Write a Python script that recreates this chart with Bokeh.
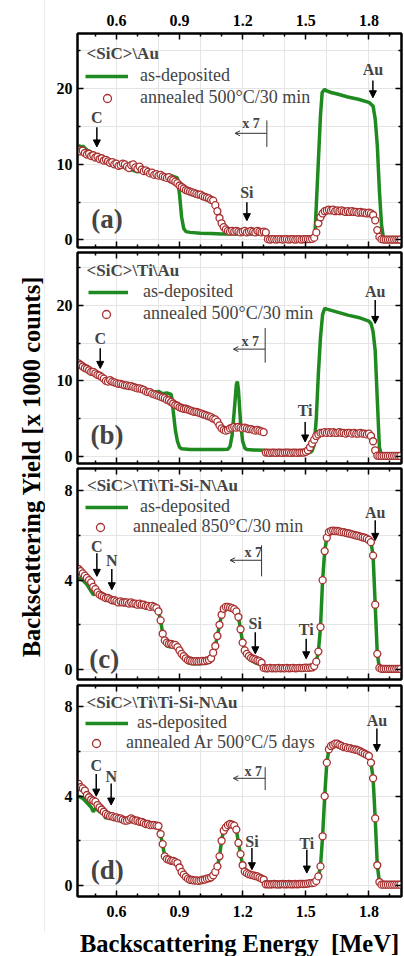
from bokeh.plotting import figure
from bokeh.models import (Range1d, LinearAxis, FixedTicker, Legend, LegendItem,
                          Label, Arrow, NormalHead, OpenHead)
from bokeh.layouts import row, column
from bokeh.embed import file_html
from bokeh.resources import INLINE

# ---------------- data ----------------
ENERGY = [
    0.42, 0.43, 0.44, 0.45, 0.46, 0.47, 0.48, 0.49, 0.50, 0.51,
    0.52, 0.53, 0.54, 0.55, 0.56, 0.57, 0.58, 0.59, 0.60, 0.61,
    0.62, 0.63, 0.64, 0.65, 0.66, 0.67, 0.68, 0.69, 0.70, 0.71,
    0.72, 0.73, 0.74, 0.75, 0.76, 0.77, 0.78, 0.79, 0.80, 0.81,
    0.82, 0.83, 0.84, 0.85, 0.86, 0.87, 0.88, 0.89, 0.90, 0.91,
    0.92, 0.93, 0.94, 0.95, 0.96, 0.97, 0.98, 0.99, 1.00, 1.01,
    1.02, 1.03, 1.04, 1.05, 1.06, 1.07, 1.08, 1.09, 1.10, 1.11,
    1.12, 1.13, 1.14, 1.15, 1.16, 1.17, 1.18, 1.19, 1.20, 1.21,
    1.22, 1.23, 1.24, 1.25, 1.26, 1.27, 1.28, 1.29, 1.30, 1.31,
    1.32, 1.33, 1.34, 1.35, 1.36, 1.37, 1.38, 1.39, 1.40, 1.41,
    1.42, 1.43, 1.44, 1.45, 1.46, 1.47, 1.48, 1.49, 1.50, 1.51,
    1.52, 1.53, 1.54, 1.55, 1.56, 1.57, 1.58, 1.59, 1.60, 1.61,
    1.62, 1.63, 1.64, 1.65, 1.66, 1.67, 1.68, 1.69, 1.70, 1.71,
    1.72, 1.73, 1.74, 1.75, 1.76, 1.77, 1.78, 1.79, 1.80, 1.81,
    1.82, 1.83, 1.84, 1.85, 1.86, 1.87, 1.88, 1.89, 1.90, 1.91,
    1.92, 1.93, 1.94, 1.95]

# (a) <SiC>\Au
ANN_A = [
    11.9, 11.7, 11.8, 11.5, 11.3, 11.4, 11.1, 11.2, 10.9, 11.0,
    10.7, 10.8, 10.5, 10.6, 10.4, 10.2, 10.3, 10.0, 10.1, 9.8,
    9.9, 10.1, 10.0, 9.7, 9.5, 9.9, 10.0, 9.6, 9.4, 9.7,
    9.3, 9.1, 9.2, 9.0, 8.8, 8.9, 8.6, 8.7, 8.5, 8.6,
    8.4, 8.3, 8.2, 8.3, 8.0, 7.9, 7.7, 7.5, 7.2, 7.0,
    6.8, 6.6, 6.5, 6.4, 6.3, 6.2, 6.1, 6.0, 6.0, 5.8,
    5.7, 5.6, 5.5, 5.3, 5.2, 4.6, 3.8, 2.9, 2.2, 1.7,
    1.4, 1.2, 1.1, 1.2, 1.1, 1.2, 1.1, 1.0, 1.1, 1.2,
    1.0, 1.1, 1.2, 1.1, 1.0, 1.2, 1.1, 1.0, 1.1, 1.0,
    0.1, 0.05, 0.1, 0.1, 0.05, 0.1, 0.1, 0.05, 0.1, 0.1,
    0.05, 0.1, 0.1, 0.05, 0.1, 0.1, 0.05, 0.1, 0.1, 0.1,
    0.1, 0.15, 0.3, 1.0, 2.2, 3.0, 3.5, 3.8, 3.9, 4.0,
    3.9, 4.0, 3.8, 3.9, 3.8, 3.9, 3.8, 3.7, 3.8, 3.7,
    3.8, 3.7, 3.7, 3.6, 3.7, 3.6, 3.6, 3.5, 3.6, 3.5,
    3.3, 2.6, 1.3, 0.4, 0.1, 0.05, 0.05, 0.05, 0.05, 0.05,
    0.05, 0.05, 0.05, 0.05]
DEP_A_E = [0.42, 0.43, 0.44, 0.46, 0.48, 0.50, 0.52, 0.54, 0.56, 0.58, 0.60,
           0.62, 0.64, 0.66, 0.68, 0.70, 0.72, 0.74, 0.76, 0.78, 0.80,
           0.82, 0.84, 0.86, 0.88, 0.89, 0.90, 0.91, 0.92, 0.93,
           0.95, 1.00, 1.05, 1.10, 1.20, 1.31, 1.315,
           1.54, 1.545, 1.55, 1.56, 1.57, 1.578, 1.59, 1.60, 1.62, 1.65, 1.70,
           1.75, 1.80, 1.82, 1.83, 1.84, 1.85, 1.86, 1.87, 1.95]
DEP_A_Y = [12.6, 12.2, 12.4, 11.9, 11.6, 11.2, 11.0, 10.6, 10.5, 10.1, 10.0,
           9.7, 9.6, 9.4, 9.2, 9.0, 9.1, 8.8, 8.7, 8.6, 8.5,
           8.4, 8.2, 8.5, 8.3, 8.2, 6.0, 3.0, 1.5, 1.1,
           1.0, 0.9, 0.85, 0.8, 0.8, 0.75, 0.05,
           0.1, 1.5, 4.5, 10.5, 16.5, 19.5, 19.9, 19.7, 19.5, 19.3, 18.9,
           18.6, 18.2, 17.7, 16.0, 12.5, 6.5, 2.0, 0.1, 0.05]

# (b) <SiC>\Ti\Au
ANN_B = [
    12.3, 12.1, 11.9, 11.7, 11.6, 11.4, 11.2, 11.2, 11.0, 10.8,
    10.7, 10.5, 10.3, 10.0, 9.9, 10.1, 9.9, 9.8, 9.7, 9.6,
    9.6, 9.5, 9.4, 9.4, 9.3, 9.3, 9.2, 9.1, 9.0, 9.0,
    8.9, 8.8, 8.6, 8.5, 8.5, 8.3, 8.2, 8.1, 8.0, 7.9,
    7.8, 7.7, 7.5, 7.4, 7.2, 7.0, 6.8, 6.7, 6.5, 6.4,
    6.3, 6.3, 6.2, 6.1, 6.0, 5.9, 5.9, 5.8, 5.7, 5.6,
    5.5, 5.4, 5.3, 5.2, 5.0, 4.9, 4.6, 4.1, 3.7, 3.5,
    3.4, 3.5, 3.7, 3.8, 3.9, 3.8, 3.9, 3.8, 3.7, 3.8,
    3.7, 3.6, 3.6, 3.5, 3.4, 3.5, 3.4, 3.3, 3.2, 0.5,
    0.5, 0.45, 0.5, 0.5, 0.45, 0.5, 0.5, 0.45, 0.5, 0.5,
    0.5, 0.45, 0.5, 0.5, 0.45, 0.5, 0.5, 0.5, 0.6, 0.8,
    1.2, 1.7, 2.2, 2.7, 2.9, 3.1, 3.1, 3.2, 3.1, 3.2,
    3.1, 3.2, 3.1, 3.1, 3.2, 3.1, 3.1, 3.0, 3.1, 3.1,
    3.0, 3.1, 3.0, 3.0, 3.1, 3.0, 3.0, 2.9, 3.0, 2.7,
    2.0, 0.8, 0.1, 0.05, 0.05, 0.05, 0.05, 0.05, 0.05, 0.05,
    0.05, 0.05, 0.05, 0.05]
DEP_B_E = [0.42, 0.45, 0.50, 0.55, 0.60, 0.65, 0.70, 0.75, 0.78, 0.80,
           0.82, 0.84, 0.86, 0.865, 0.87, 0.88, 0.89, 0.90, 0.91, 0.95,
           1.00, 1.05, 1.10, 1.13, 1.14, 1.15, 1.16, 1.17, 1.175, 1.18,
           1.19, 1.20, 1.21, 1.22, 1.25, 1.305, 1.31, 1.50, 1.52, 1.53,
           1.54, 1.55, 1.56, 1.57, 1.58, 1.59, 1.60, 1.65, 1.70, 1.75,
           1.80, 1.81, 1.82, 1.83, 1.84, 1.85, 1.86, 1.95]
DEP_B_Y = [12.2, 11.6, 10.9, 10.2, 9.7, 9.3, 9.0, 8.7, 8.5, 8.6,
           8.3, 8.4, 8.2, 7.5, 6.0, 3.5, 2.0, 1.2, 1.0, 0.9,
           0.9, 0.9, 0.9, 0.95, 1.3, 2.8, 6.0, 9.5, 9.9, 8.8,
           4.5, 2.0, 1.1, 0.9, 0.85, 0.8, 0.45, 0.45, 0.5, 0.7,
           1.5, 5.0, 11.0, 15.8, 18.8, 19.6, 19.5, 19.1, 18.7, 18.4,
           17.9, 17.6, 16.5, 14.0, 7.5, 1.2, 0.1, 0.05]

# (c) <SiC>\Ti\Ti-Si-N\Au
ANN_C = [
    4.5, 4.4, 4.3, 4.2, 4.1, 4.0, 3.9, 3.7, 3.6, 3.45,
    3.35, 3.3, 3.25, 3.2, 3.2, 3.15, 3.1, 3.1, 3.05, 3.0,
    3.05, 3.0, 3.0, 3.0, 2.95, 3.0, 2.95, 2.95, 2.9, 2.95,
    2.9, 2.9, 2.85, 2.85, 2.8, 2.85, 2.8, 2.75, 2.6, 2.2,
    1.6, 1.3, 1.2, 1.15, 1.15, 1.1, 1.1, 1.0, 0.85, 0.7,
    0.6, 0.5, 0.42, 0.4, 0.37, 0.36, 0.37, 0.36, 0.37, 0.38,
    0.37, 0.4, 0.42, 0.5, 0.75, 1.05, 1.5, 2.0, 2.45, 2.72,
    2.8, 2.8, 2.78, 2.75, 2.7, 2.6, 2.35, 1.8, 1.2, 0.85,
    0.7, 0.6, 0.52, 0.48, 0.45, 0.4, 0.37, 0.3, 0.07, 0.05,
    0.05, 0.07, 0.05, 0.06, 0.05, 0.07, 0.05, 0.06, 0.05, 0.07,
    0.05, 0.06, 0.07, 0.05, 0.06, 0.07, 0.06, 0.07, 0.08, 0.07,
    0.08, 0.09, 0.15, 0.35, 0.8, 1.9, 4.0, 5.3, 5.9, 6.15,
    6.2, 6.22, 6.2, 6.2, 6.18, 6.15, 6.15, 6.12, 6.1, 6.08,
    6.05, 6.03, 6.0, 5.98, 5.95, 5.92, 5.9, 5.86, 5.8, 5.7,
    5.1, 2.9, 0.7, 0.07, 0.03, 0.03, 0.03, 0.03, 0.03, 0.03,
    0.03, 0.03, 0.03, 0.03]
DEP_C_E = [0.42, 0.44, 0.46, 0.48, 0.49, 0.50, 0.52, 0.55, 0.60, 0.65,
           0.70, 0.75, 0.79, 0.80, 0.81, 0.82, 0.83, 0.84, 0.86, 0.88,
           0.90, 0.92, 0.94, 0.96, 1.00, 1.03, 1.05, 1.06, 1.07, 1.08,
           1.09, 1.10, 1.11, 1.12, 1.14, 1.16, 1.17, 1.18, 1.19, 1.20,
           1.21, 1.22, 1.24, 1.26, 1.29, 1.30, 1.54, 1.55, 1.56, 1.57,
           1.58, 1.59, 1.60, 1.61, 1.64, 1.70, 1.76, 1.80, 1.81, 1.82,
           1.83, 1.84, 1.85, 1.95]
DEP_C_Y = [4.1, 4.0, 3.8, 3.5, 3.35, 3.4, 3.3, 3.15, 3.0, 2.9,
           2.85, 2.8, 2.75, 2.6, 2.2, 1.6, 1.2, 1.05, 1.0, 1.0,
           0.8, 0.55, 0.3, 0.25, 0.25, 0.3, 0.45, 0.75, 1.05, 1.5,
           2.0, 2.45, 2.72, 2.8, 2.78, 2.7, 2.6, 2.35, 1.8, 1.2,
           0.85, 0.6, 0.4, 0.3, 0.2, 0.05, 0.15, 0.35, 0.8, 1.9,
           4.0, 5.3, 5.9, 6.1, 6.15, 6.05, 5.95, 5.8, 5.7, 5.1,
           2.9, 0.7, 0.07, 0.03]

# (d) <SiC>\Ti\Ti-Si-N\Au, Ar anneal
ANN_D = [
    4.55, 4.4, 4.35, 4.25, 4.05, 3.95, 3.85, 3.8, 3.75, 3.6,
    3.5, 3.4, 3.3, 3.2, 3.15, 3.1, 3.1, 3.05, 3.05, 3.0,
    3.0, 2.95, 2.9, 2.9, 2.95, 3.0, 2.95, 2.9, 2.9, 2.85,
    2.85, 2.8, 2.75, 2.75, 2.7, 2.7, 2.7, 2.68, 2.66, 2.3,
    1.85, 1.3, 1.18, 1.15, 1.1, 1.1, 1.05, 1.0, 0.8, 0.6,
    0.48, 0.38, 0.3, 0.25, 0.24, 0.22, 0.22, 0.2, 0.22, 0.25,
    0.26, 0.3, 0.32, 0.36, 0.45, 0.6, 0.85, 1.3, 2.0, 2.45,
    2.6, 2.7, 2.75, 2.72, 2.68, 2.5, 1.9, 1.4, 0.9, 0.62,
    0.55, 0.5, 0.47, 0.45, 0.42, 0.4, 0.35, 0.3, 0.26, 0.05,
    0.05, 0.04, 0.05, 0.06, 0.05, 0.04, 0.05, 0.06, 0.05, 0.05,
    0.06, 0.05, 0.05, 0.06, 0.05, 0.06, 0.07, 0.06, 0.07, 0.08,
    0.1, 0.1, 0.12, 0.2, 0.4, 0.85, 2.2, 4.0, 5.5, 6.1,
    6.25, 6.3, 6.35, 6.35, 6.3, 6.25, 6.2, 6.2, 6.15, 6.15,
    6.12, 6.1, 6.08, 6.05, 6.0, 5.95, 5.9, 5.85, 5.8, 5.5,
    4.8, 3.0, 0.9, 0.15, 0.03, 0.03, 0.03, 0.03, 0.03, 0.03,
    0.03, 0.03, 0.03, 0.03]
DEP_D_E = [0.42, 0.44, 0.46, 0.48, 0.49, 0.50, 0.52, 0.54, 0.55, 0.56,
           0.60, 0.65, 0.70, 0.75, 0.80, 0.81, 0.82, 0.83, 0.84, 0.87,
           0.89, 0.91, 0.93, 0.95, 1.00, 1.04, 1.06, 1.07, 1.08, 1.09,
           1.10, 1.11, 1.12, 1.15, 1.17, 1.18, 1.19, 1.20, 1.21, 1.23,
           1.26, 1.30, 1.31, 1.55, 1.56, 1.57, 1.58, 1.59, 1.60, 1.61,
           1.64, 1.70, 1.76, 1.80, 1.81, 1.82, 1.83, 1.84, 1.85, 1.95]
DEP_D_Y = [4.0, 3.9, 3.7, 3.5, 3.3, 3.45, 3.3, 3.2, 3.0, 3.1,
           3.0, 2.9, 2.8, 2.7, 2.66, 2.3, 1.8, 1.3, 1.1, 1.0,
           0.9, 0.5, 0.3, 0.2, 0.2, 0.3, 0.45, 0.6, 0.85, 1.3,
           2.0, 2.5, 2.75, 2.8, 2.5, 1.9, 1.4, 0.9, 0.6, 0.45,
           0.38, 0.25, 0.05, 0.15, 0.4, 0.85, 2.2, 4.0, 5.5, 6.1,
           6.25, 6.1, 6.0, 5.8, 5.5, 4.8, 3.0, 0.9, 0.15, 0.03]

TITLES = ["<SiC>\\Au", "<SiC>\\Ti\\Au", "<SiC>\\Ti\\Ti-Si-N\\Au", "<SiC>\\Ti\\Ti-Si-N\\Au"]
ANN_LABELS = ["annealed 500°C/30 min", "annealed 500°C/30 min",
              "annealed 850°C/30 min", "annealed Ar 500°C/5 days"]
PANEL_TAGS = ["(a)", "(b)", "(c)", "(d)"]
X_MAJOR = [0.6, 0.9, 1.2, 1.5, 1.8]
X_MINOR = [0.5, 0.7, 0.8, 1.0, 1.1, 1.3, 1.4, 1.6, 1.7, 1.9]

# ---------------- style ----------------
FONT = "Liberation Serif"
GREEN = "#1f8a1f"
RED = "#a83030"
X_RANGE = (0.415, 1.955)
NOSHRINK = {"flex-shrink": "0"}


def style_axis(ax, ticker, labels):
    ax.ticker = ticker
    ax.axis_line_width = 2
    ax.axis_line_color = "black"
    ax.major_tick_in = 6
    ax.major_tick_out = 0
    ax.minor_tick_in = 3
    ax.minor_tick_out = 0
    ax.major_tick_line_width = 1.5
    ax.minor_tick_line_width = 1.5
    ax.major_tick_line_color = "black"
    ax.minor_tick_line_color = "black"
    if labels:
        ax.major_label_text_font = FONT
        ax.major_label_text_font_style = "bold"
        ax.major_label_text_font_size = "16px"
        ax.major_label_text_color = "black"
    else:
        ax.major_label_text_color = None
        ax.major_label_text_font_size = "0px"
        ax.major_label_standoff = 0


def one_item_legend(label, renderer, loc, glyph_w, standoff):
    lg = Legend(items=[LegendItem(label=label, renderers=[renderer])], location=loc)
    lg.label_text_font = FONT
    lg.label_text_font_size = "18px"
    lg.label_standoff = standoff
    lg.glyph_width = glyph_w
    lg.glyph_height = 20
    lg.label_height = 20
    lg.spacing = 0
    lg.padding = 0
    lg.margin = 0
    lg.border_line_color = None
    lg.background_fill_alpha = 0
    return lg


def make_panel(idx, ann_y, dep_e, dep_y, yr, ymaj, ymin, frame_h, b_top, b_bot,
               title_pos, leg1, leg2, tag_pos, marks, x7):
    p = figure(frame_width=324, frame_height=frame_h,
               x_range=Range1d(*X_RANGE), y_range=Range1d(*yr),
               x_axis_location=None, y_axis_location=None,
               output_backend="svg", toolbar_location=None,
               min_border_left=32, min_border_right=2,
               min_border_top=b_top, min_border_bottom=b_bot, styles=NOSHRINK)
    p.outline_line_color = "black"
    p.outline_line_width = 2
    p.background_fill_color = "white"
    p.border_fill_color = "white"

    left = LinearAxis()
    style_axis(left, FixedTicker(ticks=ymaj, minor_ticks=ymin), True)
    left.major_label_standoff = 5
    right = LinearAxis()
    style_axis(right, FixedTicker(ticks=ymaj, minor_ticks=ymin), False)
    top = LinearAxis()
    style_axis(top, FixedTicker(ticks=X_MAJOR, minor_ticks=X_MINOR), idx == 0)
    if idx == 0:
        top.major_label_standoff = 8
    bottom = LinearAxis()
    style_axis(bottom, FixedTicker(ticks=X_MAJOR, minor_ticks=X_MINOR), idx == 3)
    if idx == 3:
        bottom.major_label_standoff = 9
        bottom.axis_label = "Backscattering Energy \u00a0[MeV]"
        bottom.axis_label_text_font = FONT
        bottom.axis_label_text_font_style = "bold"
        bottom.axis_label_text_font_size = "24.5px"
        bottom.axis_label_text_color = "black"
        bottom.axis_label_standoff = 10
    p.add_layout(left, "left")
    p.add_layout(right, "right")
    p.add_layout(top, "above")
    p.add_layout(bottom, "below")

    n = min(len(ENERGY), len(ann_y))
    m = min(len(dep_e), len(dep_y))
    line_r = p.line(dep_e[:m], dep_y[:m], line_color=GREEN, line_width=3.5)
    circ_r = p.scatter(ENERGY[:n], ann_y[:n], marker="circle", size=7,
                       line_color=RED, line_width=1.3, fill_color="white")

    # sample title
    p.add_layout(Label(x=title_pos[0], y=title_pos[1], text=TITLES[idx],
                       text_font=FONT, text_font_style="bold", text_font_size="17px",
                       text_align="left", text_baseline="middle"))

    p.add_layout(one_item_legend("as-deposited", line_r, (leg1[0], leg1[1]), leg1[2], leg1[3]))
    p.add_layout(one_item_legend(ANN_LABELS[idx], circ_r, (leg2[0], leg2[1]), leg2[2], leg2[3]))

    p.add_layout(Label(x=tag_pos[0], y=tag_pos[1], text=PANEL_TAGS[idx],
                       text_font=FONT, text_font_style="bold", text_font_size="27px",
                       text_align="center", text_baseline="middle"))

    for (txt, xm, yl, ys, ye) in marks:
        p.add_layout(Label(x=xm, y=yl, text=txt, text_font=FONT,
                           text_font_style="bold", text_font_size="16px",
                           text_align="center", text_baseline="middle"))
        p.add_layout(Arrow(x_start=xm, y_start=ys, x_end=xm, y_end=ye,
                           line_width=1.5, line_color="black",
                           end=NormalHead(size=7, fill_color="black",
                                          line_color="black", line_width=1)))

    tx, ty, ay, ax0, ax1, vy0, vy1 = x7
    p.add_layout(Label(x=tx, y=ty, text="x 7", text_font=FONT,
                       text_font_style="bold", text_font_size="14px",
                       text_align="center", text_baseline="middle"))
    p.add_layout(Arrow(x_start=ax0, y_start=ay, x_end=ax1, y_end=ay,
                       line_width=1, line_color="#333333",
                       end=OpenHead(size=5, line_width=1, line_color="#333333")))
    p.add_layout(Arrow(x_start=ax0, y_start=vy0, x_end=ax0, y_end=vy1,
                       line_width=1, line_color="#333333", end=None))
    return p


# legend rows: (x offset from frame left, bottom offset from frame bottom, glyph width, label standoff)
fa = make_panel(0, ANN_A, DEP_A_E, DEP_A_Y, (-1.0, 27.3), [0, 10, 20], [5, 15, 25],
                214, 33, 3, (0.458, 24.7), (8, 161, 43, 12), (20, 139, 20, 23), (0.555, 2.8),
                [("C", 0.507, 16.2, 14.9, 12.3), ("Si", 1.22, 6.3, 5.0, 2.55),
                 ("Au", 1.819, 22.6, 21.1, 18.8)],
                (1.24, 15.4, 14.1, 1.315, 1.164, 15.8, 12.3))
fb = make_panel(1, ANN_B, DEP_B_E, DEP_B_Y, (-0.95, 27.0), [0, 10, 20], [5, 15, 25],
                211, 2, 2, (0.458, 24.6), (11, 161, 40, 15), (19, 139, 20, 27), (0.555, 2.8),
                [("C", 0.523, 15.6, 14.3, 11.65), ("Ti", 1.497, 6.1, 4.55, 1.9),
                 ("Au", 1.83, 21.8, 20.7, 17.6)],
                (1.236, 15.2, 14.2, 1.307, 1.156, 17.0, 12.4))
fc = make_panel(2, ANN_C, DEP_C_E, DEP_C_Y, (-0.45, 9.0), [0, 4, 8], [2, 6],
                211, 3, 3, (0.460, 8.25), (8, 162, 43, 12), (13, 142, 20, 23), (0.542, 0.48),
                [("C", 0.507, 5.5, 5.2, 4.17), ("N", 0.578, 4.9, 4.5, 3.57),
                 ("Si", 1.26, 2.05, 1.67, 0.7), ("Ti", 1.502, 1.78, 1.38, 0.48),
                 ("Au", 1.83, 7.05, 6.68, 5.78)],
                (1.25, 5.26, 4.89, 1.29, 1.14, 5.56, 4.17))
fd = make_panel(3, ANN_D, DEP_D_E, DEP_D_Y, (-0.5, 8.96), [0, 4, 8], [2, 6],
                211, 3, 59, (0.458, 8.21), (8, 163, 43, 9), (9, 143, 20, 20), (0.556, 0.67),
                [("C", 0.504, 5.39, 4.99, 4.0), ("N", 0.575, 4.87, 4.57, 3.6),
                 ("Si", 1.244, 1.96, 1.67, 0.7), ("Ti", 1.505, 1.89, 1.6, 0.55),
                 ("Au", 1.838, 7.4, 7.03, 6.0)],
                (1.25, 5.09, 4.8, 1.307, 1.156, 5.3, 4.27))

# narrow figure whose (tick-less) left axis carries the shared y-axis title
yfig = figure(width=45, height=955, x_range=Range1d(0, 1), y_range=Range1d(0, 1),
              x_axis_location=None, y_axis_location=None,
              output_backend="svg", toolbar_location=None,
              min_border_left=44, min_border_right=0, min_border_top=0,
              min_border_bottom=23, styles=NOSHRINK)
yfig.outline_line_color = None
yax = LinearAxis(ticker=FixedTicker(ticks=[]))
yax.axis_line_color = None
yax.major_tick_line_color = None
yax.minor_tick_line_color = None
yax.major_label_text_color = None
yax.major_label_text_font_size = "0px"
yax.major_label_standoff = 0
yax.axis_label = "Backscattering Yield [x 1000 counts]"
yax.axis_label_text_font = FONT
yax.axis_label_text_font_style = "bold"
yax.axis_label_text_font_size = "24.5px"
yax.axis_label_text_color = "black"
yax.axis_label_standoff = 0
yfig.add_layout(yax, "left")

layout = row(yfig, column(fa, fb, fc, fd, styles=NOSHRINK))
open("out.html", "w").write(file_html(layout, INLINE))
